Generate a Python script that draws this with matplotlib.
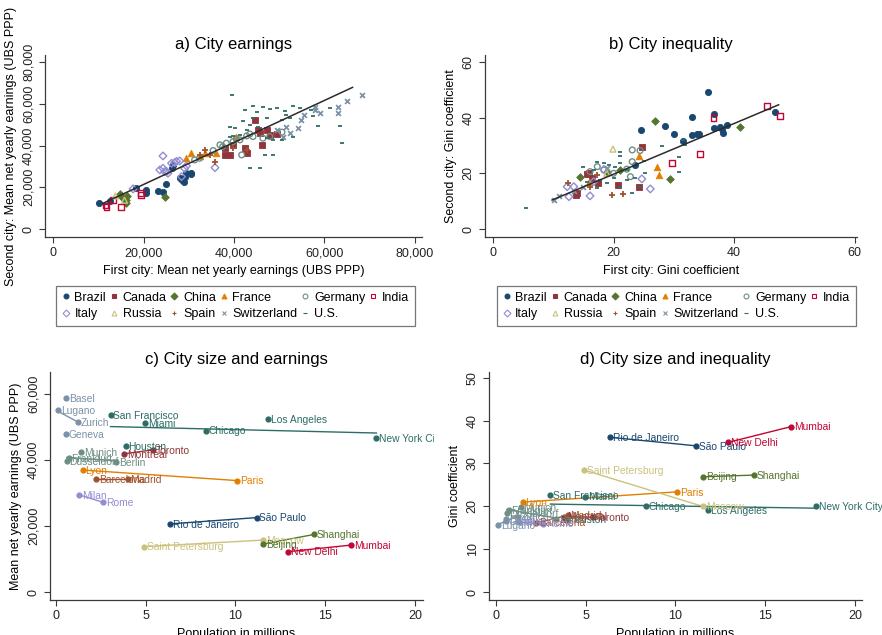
import numpy as np
import matplotlib.pyplot as plt
from matplotlib.lines import Line2D
from matplotlib.patches import Rectangle
from matplotlib.ticker import FuncFormatter

plt.rcParams['font.family'] = ['Liberation Sans', 'DejaVu Sans']

# ---- data --------------------------------------------------------------
countries = ['Brazil', 'Canada', 'China', 'France', 'Germany', 'India',
             'Italy', 'Russia', 'Spain', 'Switzerland', 'U.S.']

# panel a: (first city, second city) mean net yearly earnings
earn_brazil = [(10200, 12300), (12500, 13600), (18400, 19500), (20600, 18700), (20600, 17100),
               (23200, 18200), (24300, 17600), (24900, 21400), (26200, 29400), (26500, 30700),
               (28000, 24300), (28600, 23500), (29000, 22700), (29100, 25100), (30400, 26400),
               (30600, 27000), (29500, 27000)]
earn_canada = [(42400, 38700), (39800, 40300), (39100, 35500), (38000, 38700), (38000, 35500),
               (44600, 52300), (45300, 47500), (45700, 45900), (46100, 40300), (47200, 47500),
               (49400, 45600), (47900, 45100), (42800, 36300)]
earn_china = [(15100, 16000), (15500, 14700), (16200, 13900), (16100, 12300), (16400, 16000),
              (24700, 15500), (14700, 16600)]
earn_france = [(30400, 36300), (29500, 33900), (33500, 36300), (36000, 36300), (40500, 44300),
               (32400, 35000)]
earn_germany = [(36900, 40300), (38300, 41100), (39800, 41900), (41300, 42700), (42800, 44600),
                (44200, 44300), (46400, 43500), (47900, 44300), (41700, 35500), (32400, 33900),
                (31300, 33100), (35400, 37600), (37500, 39500), (40500, 43200), (43500, 45500),
                (50600, 46400)]
earn_india = [(11800, 10700), (15100, 10400), (19500, 17100), (19500, 16300), (13300, 13900),
              (11600, 11200)]
earn_italy = [(24300, 35000), (17700, 19200), (24300, 29100), (24700, 27500), (25400, 26700),
              (26200, 31500), (26900, 31800), (28000, 32600), (28400, 25100), (29500, 30200),
              (35800, 29400), (25100, 27500), (23600, 28300), (27300, 32400), (29100, 29000)]
earn_russia = [(15800, 13800), (13800, 15800)]
earn_spain = [(33500, 37900), (34600, 35500), (39800, 38700), (42800, 37900), (35800, 32300),
              (32400, 35500)]
earn_swiss = [(68200, 64000), (64900, 61100), (63000, 58400), (63000, 55500), (57900, 58400),
              (59000, 55800), (54200, 48300), (51600, 49100), (52400, 45900), (50900, 44300),
              (49400, 47200), (54900, 52300), (58000, 57000), (55500, 54500)]
earn_us = [(39500, 64000), (63800, 41100), (63400, 49400), (43500, 29100), (45700, 29100),
           (42400, 57100), (44200, 59000), (46500, 58400), (47900, 57400), (49400, 57900),
           (51200, 56300), (53100, 58700), (54600, 57900), (57100, 57100), (61200, 57900),
           (58600, 49400), (44200, 53400), (47200, 53100), (50500, 52300), (52400, 53100),
           (39100, 49100), (40200, 48300), (42000, 51500), (43500, 49900), (45300, 49100),
           (41300, 45100), (42800, 47500), (47200, 43500), (48700, 42700), (50500, 42700),
           (53100, 44300), (46800, 35500), (48700, 35500), (45000, 56200), (51600, 54700),
           (57500, 53900), (39800, 44600), (39100, 44300)]
# fitted line: slope, intercept, x range
earn_fit = (1.007, 1180, 11000, 66200)

# panel b: (first city, second city) Gini coefficient
gini_brazil = [(35.7, 49.1), (36.7, 41.3), (36.7, 36.2), (33.0, 40.1), (28.6, 37.1), (30.0, 34.1),
               (31.6, 31.7), (33.1, 33.8), (33.8, 34.1), (38.0, 35.9), (38.2, 34.4), (38.9, 37.4),
               (46.8, 41.9), (24.6, 35.6), (23.6, 23.0), (34.1, 34.1), (37.6, 36.5)]
gini_canada = [(24.7, 29.6), (15.6, 19.7), (16.4, 18.2), (17.4, 16.4), (13.7, 12.2), (13.9, 12.8),
               (20.8, 15.8), (24.2, 15.0), (15.9, 20.0)]
gini_china = [(26.9, 38.9), (41.0, 36.5), (29.4, 18.0), (14.5, 18.8), (21.1, 21.2), (18.9, 20.3)]
gini_france = [(24.3, 26.3), (27.2, 22.4), (27.5, 19.4), (15.9, 17.0)]
gini_germany = [(23.1, 28.4), (24.4, 28.2), (23.1, 24.2), (17.3, 22.4), (18.4, 21.2), (22.2, 21.5),
                (16.1, 20.6), (20.0, 20.0), (22.8, 18.8)]
gini_india = [(45.5, 44.3), (47.6, 40.7), (36.6, 39.8), (34.4, 27.0), (29.7, 23.6)]
gini_italy = [(12.3, 15.2), (12.6, 11.6), (16.1, 11.9), (24.7, 18.0), (26.1, 14.4), (13.4, 15.2),
              (18.4, 21.4), (16.7, 17.0)]
gini_russia = [(19.9, 28.7), (18.9, 20.0)]
gini_spain = [(12.4, 16.4), (19.7, 12.2), (21.6, 12.5), (17.3, 19.4), (16.1, 15.2)]
gini_swiss = [(10.1, 10.4), (10.9, 11.9), (13.4, 13.8), (15.0, 15.2), (18.9, 21.8)]
gini_us = [(5.5, 7.7), (31.9, 30.2), (31.6, 32.0), (30.8, 26.0), (30.8, 20.6), (28.0, 29.9),
           (25.0, 24.5), (21.1, 26.3), (21.1, 27.8), (17.3, 24.2), (18.4, 23.6), (19.2, 23.0),
           (20.2, 22.4), (21.1, 23.6), (22.2, 21.2), (20.0, 18.2), (18.9, 16.4), (17.8, 17.6),
           (16.7, 21.2), (15.0, 22.4), (22.2, 17.6), (23.6, 18.2), (25.3, 20.0), (24.4, 15.2),
           (21.1, 15.2), (23.1, 12.8), (17.3, 14.6), (15.6, 17.0)]
gini_fit = (0.91, 1.49, 9.8, 47.4)

# panels c and d: cities
city_names = ['Basel', 'Lugano', 'Zurich', 'Geneva', 'San Francisco', 'Miami', 'Chicago',
              'Los Angeles', 'New York City', 'Houston', 'Toronto', 'Montreal', 'Munich',
              'Frankfurt', 'Düsseldorf', 'Berlin', 'Lyon', 'Paris', 'Barcelona', 'Madrid',
              'Milan', 'Rome', 'Rio de Janeiro', 'São Paulo', 'Saint Petersburg', 'Moscow',
              'Beijing', 'Shanghai', 'New Delhi', 'Mumbai']
city_country = ['Switzerland'] * 4 + ['U.S.'] * 6 + ['Canada'] * 2 + ['Germany'] * 4 + \
               ['France'] * 2 + ['Spain'] * 2 + ['Italy'] * 2 + ['Brazil'] * 2 + \
               ['Russia'] * 2 + ['China'] * 2 + ['India'] * 2
city_pop = [0.6, 0.15, 1.25, 0.55, 3.05, 4.97, 8.35, 11.82, 17.84, 3.9, 5.4, 3.8, 1.4,
            0.72, 0.62, 3.35, 1.5, 10.1, 2.25, 4.0, 1.3, 2.65, 6.36, 11.17, 4.9, 11.53,
            11.53, 14.37, 12.92, 16.45]
city_earn = [58700, 55200, 51400, 47800, 53500, 51100, 48900, 52300, 46600, 44300, 43100,
             41900, 42400, 40500, 39700, 39300, 37000, 33800, 34300, 34300, 29500, 27200,
             20700, 22600, 13800, 15800, 14600, 17500, 12300, 14300]
city_gini = [17.0, 15.6, 17.6, 16.6, 22.7, 22.3, 20.1, 19.1, 20.1, 16.9, 17.5, 17.6, 19.8,
             19.2, 18.5, 17.0, 21.0, 23.4, 16.2, 17.9, 16.3, 16.0, 36.1, 34.1, 28.5, 20.0,
             26.9, 27.3, 34.9, 38.6]

# ---- styling -----------------------------------------------------------
colors = {'Brazil': '#1a476f', 'Canada': '#90353b', 'China': '#55752f', 'France': '#e37e00',
          'Germany': '#6e8e84', 'India': '#c10534', 'Italy': '#938dd2', 'Russia': '#cac27e',
          'Spain': '#a0522d', 'Switzerland': '#7b92a8', 'U.S.': '#2d6d66'}
# marker, filled, size
msty = {'Brazil': ('o', True, 20), 'Canada': ('s', True, 20), 'China': ('D', True, 15),
        'France': ('^', True, 22), 'Germany': ('o', False, 17), 'India': ('s', False, 17),
        'Italy': ('D', False, 15), 'Russia': ('^', False, 18), 'Spain': ('+', True, 16),
        'Switzerland': ('x', True, 12), 'U.S.': ('_', True, 6)}

earn_data = dict(zip(countries, [earn_brazil, earn_canada, earn_china, earn_france, earn_germany,
                                 earn_india, earn_italy, earn_russia, earn_spain, earn_swiss, earn_us]))
gini_data = dict(zip(countries, [gini_brazil, gini_canada, gini_china, gini_france, gini_germany,
                                 gini_india, gini_italy, gini_russia, gini_spain, gini_swiss, gini_us]))

W, H = 882, 635
fig = plt.figure(figsize=(W / 100, H / 100), dpi=100)


def px_axes(left, top, right, bottom):
    return fig.add_axes([left / W, 1 - bottom / H, (right - left) / W, (bottom - top) / H])


def style(ax):
    for s in ['top', 'right']:
        ax.spines[s].set_visible(False)
    for s in ['left', 'bottom']:
        ax.spines[s].set_color('#3a3a3a')
        ax.spines[s].set_linewidth(0.9)
    ax.tick_params(direction='out', length=4, width=0.8, colors='#3a3a3a',
                   labelcolor='#222222', labelsize=9)
    for lab in ax.get_yticklabels():
        lab.set_rotation(90)
        lab.set_va('center')


comma = FuncFormatter(lambda v, p: f'{int(v):,}')


def scatter_panel(ax, data, fit):
    for c in countries:
        pts = np.array(data[c], dtype=float)
        m, filled, s = msty[c]
        col = colors[c]
        if filled:
            lw = 1.3 if m in ('x', '_', '+') else 0.6
            ax.scatter(pts[:, 0], pts[:, 1], s=s, marker=m, color=col, linewidths=lw, zorder=3)
        else:
            ax.scatter(pts[:, 0], pts[:, 1], s=s, marker=m, facecolors='none', edgecolors=col,
                       linewidths=1.0, zorder=3)
    k, b, x0, x1 = fit
    xs = np.array([x0, x1])
    ax.plot(xs, k * xs + b, color='#2b2b2b', lw=1.1, zorder=4)


# panel a
ax_a = px_axes(45, 55, 422, 237)
scatter_panel(ax_a, earn_data, earn_fit)
ax_a.set_xlim(-1768, 81547)
ax_a.set_ylim(-3832, 83353)
ax_a.set_xticks([0, 20000, 40000, 60000, 80000])
ax_a.set_yticks([0, 20000, 40000, 60000, 80000])
ax_a.xaxis.set_major_formatter(comma)
ax_a.yaxis.set_major_formatter(comma)
style(ax_a)
ax_a.set_title('a) City earnings', fontsize=12, pad=4)
ax_a.set_xlabel('First city: Mean net yearly earnings (UBS PPP)', fontsize=9)
ax_a.set_ylabel('Second city: Mean net yearly earnings (UBS PPP)', fontsize=9)

# panel b
ax_b = px_axes(485, 55, 857, 237)
scatter_panel(ax_b, gini_data, gini_fit)
ax_b.set_xlim(-1.33, 60.4)
ax_b.set_ylim(-2.87, 62.5)
ax_b.set_xticks([0, 20, 40, 60])
ax_b.set_yticks([0, 20, 40, 60])
style(ax_b)
ax_b.set_title('b) City inequality', fontsize=12, pad=4)
ax_b.set_xlabel('First city: Gini coefficient', fontsize=9)
ax_b.set_ylabel('Second city: Gini coefficient', fontsize=9)

# legends
order = ['Brazil', 'Italy', 'Canada', 'Russia', 'China', 'Spain', 'France', 'Switzerland',
         'Germany', 'U.S.', 'India']
handles = []
for c in order:
    m, filled, s = msty[c]
    if filled:
        h = Line2D([], [], ls='none', marker=m, color=colors[c], markersize=3.5, markeredgewidth=0.8)
    else:
        h = Line2D([], [], ls='none', marker=m, markerfacecolor='none', markeredgecolor=colors[c],
                   markersize=3.5, markeredgewidth=0.8)
    handles.append(h)
for x0, x1 in [(50, 421), (491, 862)]:
    leg = fig.legend(handles, order, ncol=6, loc='center', mode='expand',
                     bbox_to_anchor=(x0 / W, 1 - 325 / H, (x1 - x0) / W, 38 / H),
                     fontsize=9, frameon=True, fancybox=False, handlelength=0.6,
                     handletextpad=0.4, columnspacing=0.6, labelspacing=0.35,
                     borderpad=0.45)
    leg.get_frame().set_edgecolor('#555555')
    leg.get_frame().set_linewidth(0.9)


def city_panel(ax, yvals, clip_frac):
    pop = np.array(city_pop)
    yv = np.array(yvals, dtype=float)
    ctry = np.array(city_country)
    for c in countries:
        sel = ctry == c
        if sel.sum() < 2:
            continue
        k, b = np.polyfit(pop[sel], yv[sel], 1)
        xs = np.array([pop[sel].min(), pop[sel].max()])
        ax.plot(xs, k * xs + b, color=colors[c], lw=1.0, zorder=2)
    clip = Rectangle((0, 0), clip_frac, 1.05, transform=ax.transAxes, visible=False)
    ax.add_patch(clip)
    for name, c, x, y in zip(city_names, city_country, city_pop, yvals):
        ax.scatter([x], [y], s=12, color=colors[c], zorder=3)
        t = ax.annotate(name, (x, y), xytext=(2, -0.5), textcoords='offset points',
                        va='center', ha='left', fontsize=7.4, color=colors[c], zorder=4,
                        annotation_clip=False)
        t.set_clip_path(clip)


# panel c
ax_c = px_axes(50, 372, 423, 600)
city_panel(ax_c, city_earn, 1.03)
ax_c.set_xlim(-0.317, 20.43)
ax_c.set_ylim(-2330, 66660)
ax_c.set_xticks([0, 5, 10, 15, 20])
ax_c.set_yticks([0, 20000, 40000, 60000])
ax_c.yaxis.set_major_formatter(comma)
style(ax_c)
ax_c.set_title('c) City size and earnings', fontsize=12, pad=6)
ax_c.set_xlabel('Population in millions', fontsize=9)
ax_c.set_ylabel('Mean net yearly earnings (UBS PPP)', fontsize=9)

# panel d
ax_d = px_axes(489, 372, 862, 600)
city_panel(ax_d, city_gini, 1.1)
ax_d.set_xlim(-0.37, 20.38)
ax_d.set_ylim(-1.79, 51.3)
ax_d.set_xticks([0, 5, 10, 15, 20])
ax_d.set_yticks([0, 10, 20, 30, 40, 50])
style(ax_d)
ax_d.set_title('d) City size and inequality', fontsize=12, pad=6)
ax_d.set_xlabel('Population in millions', fontsize=9)
ax_d.set_ylabel('Gini coefficient', fontsize=9)

fig.savefig('out.png', dpi=100, facecolor='white')
